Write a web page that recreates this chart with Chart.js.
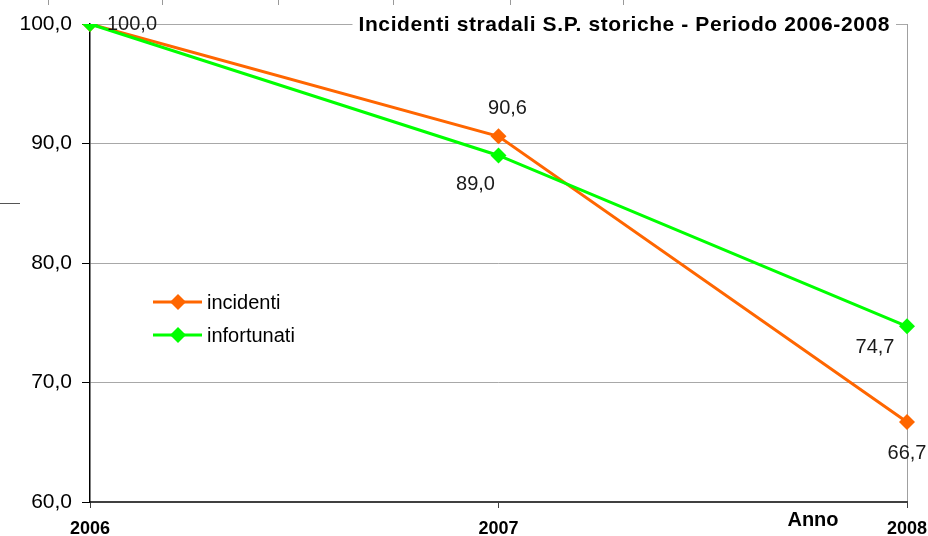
<!DOCTYPE html>
<html>
<head>
<meta charset="utf-8">
<script src="https://cdn.jsdelivr.net/npm/chart.js@4/dist/chart.umd.min.js"></script>
<style>
  body { margin: 0; background: #fff; }
  canvas { display: block; }
</style>
</head>
<body>
<canvas id="myChart" width="928" height="536"></canvas>
<script>
// data
const anni = ['2006', '2007', '2008'];
const incidenti = [100.0, 90.6, 66.7];
const infortunati = [100.0, 89.0, 74.7];
const yTicks = [60, 70, 80, 90, 100];

const titolo = 'Incidenti stradali S.P. storiche - Periodo 2006-2008';
const asseX = 'Anno';

// where each value label sits relative to its point
const posIncidenti = ['right', 'above', 'below'];
const posInfortunati = [null, 'belowLeft', 'belowLeft2'];

const fmt = v => v.toFixed(1).replace('.', ',');

const labelOffsets = {
  right: [42, 0],
  above: [9, -28],
  below: [0, 32],
  belowLeft: [-23, 29],
  belowLeft2: [-32, 21]
};

const valueLabels = {
  id: 'valueLabels',
  afterDatasetsDraw(chart) {
    const ctx = chart.ctx;
    const pos = [posIncidenti, posInfortunati];
    ctx.save();
    ctx.font = '20px Arial, "Liberation Sans", sans-serif';
    ctx.fillStyle = '#1a1a1a';
    ctx.textAlign = 'center';
    ctx.textBaseline = 'middle';
    chart.data.datasets.forEach((ds, i) => {
      const meta = chart.getDatasetMeta(i);
      meta.data.forEach((pt, j) => {
        const p = pos[i][j];
        if (!p) return;
        const o = labelOffsets[p];
        ctx.fillText(fmt(ds.data[j]), pt.x + o[0], pt.y + o[1]);
      });
    });
    ctx.restore();
  }
};

const extras = {
  id: 'extras',
  afterDraw(chart) {
    const ctx = chart.ctx;
    const area = chart.chartArea;
    ctx.save();

    // title sitting on the top gridline
    ctx.font = 'bold 21px Arial, "Liberation Sans", sans-serif';
    ctx.letterSpacing = '0.6px';
    ctx.textBaseline = 'middle';
    ctx.textAlign = 'right';
    const tw = ctx.measureText(titolo).width;
    ctx.fillStyle = '#fff';
    ctx.fillRect(area.right - 17 - tw - 6, area.top - 4, tw + 12, 8);
    ctx.fillStyle = '#000';
    ctx.fillText(titolo, area.right - 17, area.top + 1);
    ctx.letterSpacing = '0px';

    // axis name
    ctx.font = 'bold 20px Arial, "Liberation Sans", sans-serif';
    ctx.textAlign = 'center';
    ctx.fillText(asseX, 813, 520);

    // legend
    const items = chart.data.datasets;
    ctx.font = '20px Arial, "Liberation Sans", sans-serif';
    ctx.textAlign = 'left';
    items.forEach((ds, i) => {
      const y = 302 + i * 33;
      ctx.strokeStyle = ds.borderColor;
      ctx.lineWidth = 3;
      ctx.beginPath();
      ctx.moveTo(153, y);
      ctx.lineTo(202, y);
      ctx.stroke();
      ctx.fillStyle = ds.borderColor;
      ctx.beginPath();
      ctx.moveTo(178, y - 8);
      ctx.lineTo(186, y);
      ctx.lineTo(178, y + 8);
      ctx.lineTo(170, y);
      ctx.closePath();
      ctx.fill();
      ctx.fillStyle = '#000';
      ctx.fillText(ds.label, 207, y + 1);
    });

    // leftover marks at the edges of the picture
    ctx.strokeStyle = '#999';
    ctx.lineWidth = 1;
    [48, 162, 278, 393, 510, 623].forEach(x => {
      ctx.beginPath();
      ctx.moveTo(x + 0.5, 0);
      ctx.lineTo(x + 0.5, 5);
      ctx.stroke();
    });
    ctx.strokeStyle = '#555';
    ctx.beginPath();
    ctx.moveTo(0, 203.5);
    ctx.lineTo(20, 203.5);
    ctx.stroke();

    ctx.restore();
  }
};

const data = {
  labels: anni,
  datasets: [
    {
      label: 'incidenti',
      data: incidenti,
      borderColor: '#ff6600',
      backgroundColor: '#ff6600',
      order: 1
    },
    {
      label: 'infortunati',
      data: infortunati,
      borderColor: '#00ff00',
      backgroundColor: '#00ff00',
      order: 0
    }
  ]
};

const config = {
  type: 'line',
  data: data,
  options: {
    responsive: false,
    devicePixelRatio: 1,
    animation: false,
    layout: { padding: { top: 24, right: 21, left: 0, bottom: 0 } },
    elements: {
      line: { borderWidth: 3, tension: 0 },
      point: { pointStyle: 'rectRot', radius: 8, borderWidth: 0, hoverRadius: 8 }
    },
    plugins: {
      legend: { display: false },
      title: { display: false },
      tooltip: { enabled: false }
    },
    scales: {
      x: {
        offset: false,
        afterFit: s => { s.height = 34; s.paddingLeft = 0; s.paddingRight = 0; },
        border: { color: '#404040', width: 2 },
        grid: {
          drawOnChartArea: true,
          color: c => c.index === 2 ? '#a0a0a0' : 'rgba(0,0,0,0)',
          tickColor: '#404040',
          tickLength: 6
        },
        ticks: {
          color: '#000',
          font: { family: 'Arial, "Liberation Sans", sans-serif', size: 18, weight: 'bold' },
          padding: 10,
          maxRotation: 0,
          autoSkip: false
        }
      },
      y: {
        min: yTicks[0],
        max: yTicks[yTicks.length - 1],
        afterFit: s => { s.width = 90; s.paddingTop = 0; s.paddingBottom = 0; },
        afterBuildTicks: s => { s.ticks = yTicks.map(v => ({ value: v })); },
        border: { color: '#000', width: 1.5 },
        grid: { color: '#a8a8a8', lineWidth: 1, tickColor: '#000', tickLength: 8 },
        ticks: {
          color: '#000',
          font: { family: 'Arial, "Liberation Sans", sans-serif', size: 21 },
          padding: 10,
          callback: v => fmt(v)
        }
      }
    }
  },
  plugins: [valueLabels, extras]
};

const myChart = new Chart(document.getElementById('myChart'), config);
</script>
</body>
</html>
